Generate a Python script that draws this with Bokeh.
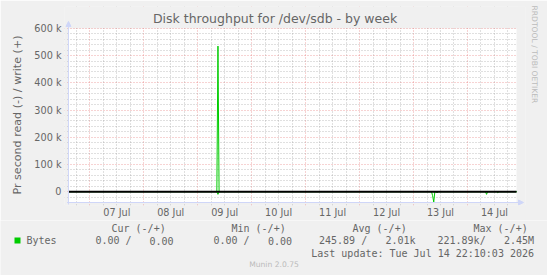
import pandas as pd
from bokeh.plotting import figure
from bokeh.layouts import column
from bokeh.core.properties import value
from bokeh.models import (Range1d, FixedTicker, DatetimeTickFormatter, Title, Label,
                          Arrow, NormalHead, BoxAnnotation)
from bokeh.embed import file_html
from bokeh.resources import INLINE

# ---------------- data ----------------
title_text = "Disk throughput for /dev/sdb - by week"
y_label = "Pr second read (-) / write (+)"

range_start = "2026-07-06 14:30"
range_end = "2026-07-14 21:50"

day_labels_at = ["2026-07-07 12:00", "2026-07-08 12:00", "2026-07-09 12:00", "2026-07-10 12:00",
                 "2026-07-11 12:00", "2026-07-12 12:00", "2026-07-13 12:00", "2026-07-14 12:00"]
y_ticks = [0, 100000, 200000, 300000, 400000, 500000, 600000]
y_tick_labels = ["0", "100 k", "200 k", "300 k", "400 k", "500 k", "600 k"]

write_times = ["2026-07-06 14:30", "2026-07-09 08:30", "2026-07-09 09:00", "2026-07-09 09:30",
               "2026-07-14 21:50"]
write_values = [0, 0, 535000, 0, 0]

read_times = ["2026-07-06 14:30",
              "2026-07-09 08:30", "2026-07-09 09:00", "2026-07-09 09:30",
              "2026-07-13 08:00", "2026-07-13 08:30", "2026-07-13 09:00", "2026-07-13 09:30",
              "2026-07-13 10:00", "2026-07-13 10:30", "2026-07-13 11:00",
              "2026-07-14 08:00", "2026-07-14 08:30", "2026-07-14 09:00",
              "2026-07-14 13:00", "2026-07-14 13:30", "2026-07-14 14:00",
              "2026-07-14 21:50"]
read_values = [0,
               0, 10000, 0,
               0, 15000, 38000, 0,
               0, 5000, 0,
               0, 10000, 0,
               0, 4000, 0,
               0]

series_name = "Bytes"
legend_headers = ["Cur (-/+)", "Min (-/+)", "Avg (-/+)", "Max (-/+)"]
legend_read = ["0.00 /", "0.00 /", "245.89 /", "221.89k/"]
legend_write = ["0.00", "0.00", "2.01k", "2.45M"]
last_update = "Last update: Tue Jul 14 22:10:03 2026"
watermark = "Munin 2.0.75"
side_mark = "RRDTOOL / TOBI OETIKER"


def ms(s):
    return pd.Timestamp(s).value // 10**6


GREEN = "#00CC00"
AXIS = "#CFD6F8"
FONT = "#666666"
BACK = "#F0F0F0"
SANS = "DejaVu Sans"
MONO = "DejaVu Sans Mono"

W, H1, H2 = 547, 220, 55
CL, CR, CT, CB = 66, 516, 28, 203      # canvas (data area) edges in px
FL, FR, FT, FB = 62, 525, 6, 206       # bokeh frame edges in px

t0, t1 = ms(range_start), ms(range_end)
y0, y1 = -40000, 600000
xpp = (t1 - t0) / (CR - CL)
ypp = (y1 - y0) / (CB - CT)

p = figure(width=W, height=H1, x_axis_type="datetime",
           x_range=Range1d(t0 - (CL - FL) * xpp, t1 + (FR - CR) * xpp),
           y_range=Range1d(y0 - (FB - CB) * ypp, y1 + (CT - FT) * ypp),
           output_backend="svg", toolbar_location=None,
           min_border_left=FL, min_border_right=W - FR,
           min_border_top=FT, min_border_bottom=H1 - FB,
           border_fill_color=BACK, background_fill_color=BACK,
           outline_line_color=None)
p.frame_align = False

# white canvas below the grid
p.add_layout(BoxAnnotation(left=t0, right=t1, bottom=y0, top=y1, fill_color="white",
                           fill_alpha=1, line_color=None, level="image"))

# grids
day_starts = [ms(f"2026-07-{d:02d} 00:00") for d in range(7, 15)]
six_h = []
for d in range(6, 15):
    for hh in (6, 12, 18):
        t = ms(f"2026-07-{d:02d} {hh:02d}:00")
        if t0 <= t <= t1:
            six_h.append(t)
p.xgrid.ticker = FixedTicker(ticks=day_starts, minor_ticks=six_h)
p.ygrid.ticker = FixedTicker(ticks=y_ticks,
                             minor_ticks=[v for v in range(-20000, 600001, 20000) if v % 100000 != 0])
for g in (p.xgrid, p.ygrid):
    g.grid_line_color = "#E05050"
    g.grid_line_alpha = 0.5
    g.grid_line_dash = "1 2"
    g.minor_grid_line_color = "#909090"
    g.minor_grid_line_alpha = 0.55
    g.minor_grid_line_dash = "1 2"

# mask grid outside the data canvas (leaving short tick stubs at the axes)
for kw in (dict(bottom=y1 + 0.5 * ypp),
           dict(left=t1 + 0.5 * xpp),
           dict(right=t0 - 1.5 * xpp),
           dict(top=y0 - 2.5 * ypp)):
    p.add_layout(BoxAnnotation(fill_color=BACK, fill_alpha=1, line_color=None,
                               level="glyph", **kw))

# axes (labels only; axis lines drawn as arrows)
xa = p.xaxis[0]
xa.ticker = FixedTicker(ticks=[ms(s) for s in day_labels_at])
fmt = "%d %b"
xa.formatter = DatetimeTickFormatter(days=fmt, hours=fmt, months=fmt, hourmin=fmt, minutes=fmt,
                                     minsec=fmt, seconds=fmt, milliseconds=fmt,
                                     microseconds=fmt, years=fmt)
ya = p.yaxis[0]
ya.ticker = FixedTicker(ticks=y_ticks)
ya.major_label_overrides = {v: s for v, s in zip(y_ticks, y_tick_labels)}
for a in (xa, ya):
    a.axis_line_color = None
    a.major_tick_line_color = None
    a.minor_tick_line_color = None
    a.major_tick_out = 0
    a.major_tick_in = 0
    a.major_label_text_font = SANS
    a.major_label_text_font_size = "9.7px"
    a.major_label_text_color = FONT
xa.major_label_standoff = 1
ya.major_label_standoff = 3

# y-axis title, placed outside the tick labels, aligned to the data canvas
p.add_layout(Title(text=y_label, align="left", offset=FB - 195, standoff=16,
                   text_font=SANS, text_font_size="11.1px", text_font_style="normal",
                   text_color=FONT), "left")

# data lines
p.line([ms(t) for t in write_times], write_values, line_color=GREEN, line_width=1)
p.line([ms(t) for t in read_times], [-v for v in read_values], line_color=GREEN, line_width=1)
p.line([t0, t1], [0, 0], line_color="black", line_width=2)

# axis lines with arrows
p.add_layout(Arrow(end=NormalHead(size=5, fill_color=AXIS, line_color=AXIS, line_width=1),
                   line_color=AXIS, line_width=1,
                   x_start=t0, x_end=t0, y_start=y0 - 2 * ypp, y_end=y1 + 7 * ypp))
p.add_layout(Arrow(end=NormalHead(size=5, fill_color=AXIS, line_color=AXIS, line_width=1),
                   line_color=AXIS, line_width=1,
                   x_start=t0 - 1.5 * xpp, x_end=t1 + 7 * xpp, y_start=y0, y_end=y0))

# title (inside the frame's top strip) and side watermark
p.add_layout(Label(x=t0 + (273.5 - CL) * xpp, y=y1 + (CT - 18.5) * ypp, text=title_text,
                   text_align="center", text_baseline="middle", text_font=SANS,
                   text_font_size="12.5px", text_color=FONT))
p.add_layout(Title(text=side_mark, align="left", offset=-1, standoff=8,
                   text_font=SANS, text_font_size="7.6px", text_font_style="normal",
                   text_color="#BBBBBB"), "right")

# ---------------- legend strip ----------------
q = figure(width=W, height=H2, x_range=Range1d(0, W), y_range=Range1d(H1 + H2, H1),
           output_backend="svg", toolbar_location=None, min_border=0,
           x_axis_location=None, y_axis_location=None,
           border_fill_color=BACK, background_fill_color=BACK, outline_line_color=None)
q.frame_align = False
q.grid.visible = False

head_x = [111, 231, 352, 473]
read_x = [95, 213, 318.5, 437]
write_x = [173, 291.5, 415, 533.5]
row_head, row_val, row_upd, row_mark = 227.5, 240, 252.5, 263.5

mono = dict(text_font=value(MONO), text_font_size="10px", text_color=FONT, text_baseline="middle")
q.text(x=head_x, y=[row_head] * 4, text=legend_headers, text_align="left", **mono)
q.text(x=[26], y=[row_val], text=[series_name], text_align="left", **mono)
q.text(x=read_x, y=[row_val] * 4, text=legend_read, text_align="left", **mono)
q.text(x=write_x, y=[row_val] * 4, text=legend_write, text_align="right", **mono)
q.text(x=[533.5], y=[row_upd], text=[last_update], text_align="right", **mono)
q.text(x=[273.5], y=[row_mark], text=[watermark], text_align="center", text_baseline="middle",
       text_font=value(SANS), text_font_size="7.6px", text_color="#BBBBBB")
q.quad(left=[14], right=[20], top=[237], bottom=[243], fill_color=GREEN, line_color=None)

layout = column(p, q, spacing=0)
open("out.html", "w").write(file_html(layout, INLINE))
